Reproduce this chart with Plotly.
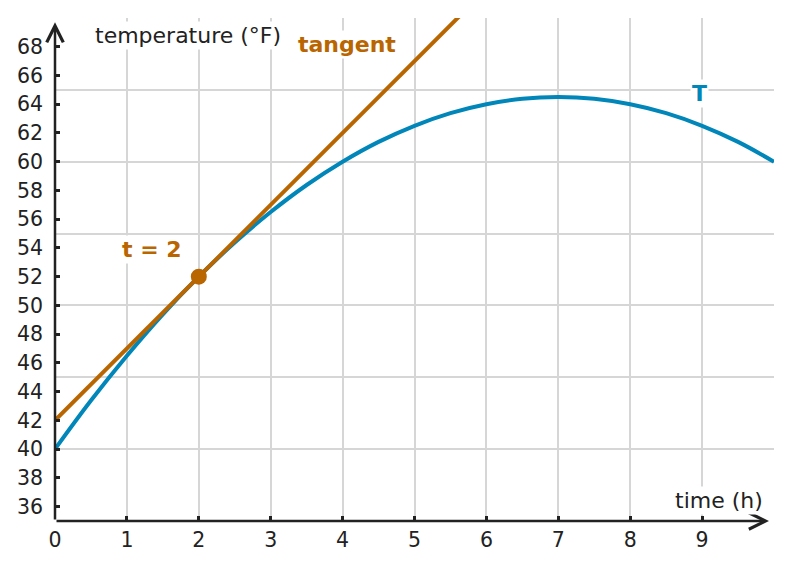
import plotly.graph_objects as go

# leituras do gráfico
tempo = [0, 0.5, 1, 1.5, 2, 2.5, 3, 3.5, 4, 4.5, 5, 5.5, 6, 6.5, 7, 7.5, 8, 8.5, 9, 9.5, 10]
temperatura = [40, 43.38, 46.5, 49.38, 52, 54.38, 56.5, 58.38, 60, 61.38, 62.5, 63.38, 64,
               64.38, 64.5, 64.38, 64, 63.38, 62.5, 61.38, 60]

tangente_t = [0, 6]
tangente_y = [42, 72]

ponto_t = [2]
ponto_y = [52]

y_ticks = list(range(36, 69, 2))
x_ticks = list(range(0, 10))

AZUL = '#0086B9'
LARANJA = '#B96500'
ESCURO = '#222222'
GRADE = '#d6d6d6'
FONTE = 'DejaVu Sans'

fig = go.Figure()

# traço vazio só para ativar os eixos da grade
fig.add_trace(go.Scatter(x=tempo, y=temperatura, xaxis='x2', yaxis='y2', mode='none',
                         showlegend=False, hoverinfo='skip'))

fig.add_trace(go.Scatter(x=tempo, y=temperatura, mode='lines', line=dict(color=AZUL, width=4, shape='spline'),
                         showlegend=False, hoverinfo='skip'))
fig.add_trace(go.Scatter(x=tangente_t, y=tangente_y, mode='lines', line=dict(color=LARANJA, width=4),
                         showlegend=False, hoverinfo='skip'))
fig.add_trace(go.Scatter(x=ponto_t, y=ponto_y, mode='markers', marker=dict(color=LARANJA, size=16),
                         showlegend=False, hoverinfo='skip'))

fig.update_layout(
    width=792, height=570,
    margin=dict(l=47, r=26, t=10, b=57),
    plot_bgcolor='white', paper_bgcolor='white',
    font=dict(family=FONTE, size=20.5, color=ESCURO),
    xaxis=dict(range=[0, 10], tickvals=x_ticks, showgrid=False, zeroline=False, showline=False,
               ticks='inside', ticklen=5, tickwidth=2.5, tickcolor=ESCURO, ticklabelstandoff=4,
               automargin=False),
    yaxis=dict(range=[35, 70], tickvals=y_ticks, showgrid=False, zeroline=False, showline=False,
               ticks='inside', ticklen=5, tickwidth=2.5, tickcolor=ESCURO, ticklabelstandoff=11,
               automargin=False),
    # eixos sobrepostos só para a grade
    xaxis2=dict(range=[0, 10], dtick=1, overlaying='x', anchor='y2', showgrid=True, gridcolor=GRADE,
                gridwidth=1.5, showticklabels=False, zeroline=False, ticks='', automargin=False),
    yaxis2=dict(range=[35, 70], dtick=5, tick0=35, overlaying='y', anchor='x2', showgrid=True, gridcolor=GRADE,
                gridwidth=1.5, showticklabels=False, zeroline=False, ticks='', automargin=False),
)

# eixos com setas
fig.add_annotation(x=9.93, y=35, ax=0, ay=35, xref='x', yref='y', axref='x', ayref='y', text='',
                   showarrow=True, arrowhead=5, arrowsize=1.3, arrowwidth=2.5, arrowcolor=ESCURO)
fig.add_annotation(x=0, y=69.7, ax=0, ay=35, xref='x', yref='y', axref='x', ayref='y', text='',
                   showarrow=True, arrowhead=5, arrowsize=1.3, arrowwidth=2.5, arrowcolor=ESCURO)

# rótulos
fig.add_annotation(x=0.53, y=68.8, text='temperature (°F)', showarrow=False, xanchor='left',
                   bgcolor='white', font=dict(size=22, color=ESCURO))
fig.add_annotation(x=9.87, y=36.45, text='time (h)', showarrow=False, xanchor='right',
                   bgcolor='white', font=dict(size=22, color=ESCURO))
fig.add_annotation(x=4.06, y=68.15, text='<b>tangent</b>', showarrow=False,
                   bgcolor='white', font=dict(size=22, color=LARANJA))
fig.add_annotation(x=8.97, y=64.75, text='<b>T</b>', showarrow=False,
                   bgcolor='white', font=dict(size=22, color=AZUL))
fig.add_annotation(x=1.35, y=53.9, text='<b>t = 2</b>', showarrow=False,
                   bgcolor='white', font=dict(size=22, color=LARANJA))

fig.write_html("out.html")
